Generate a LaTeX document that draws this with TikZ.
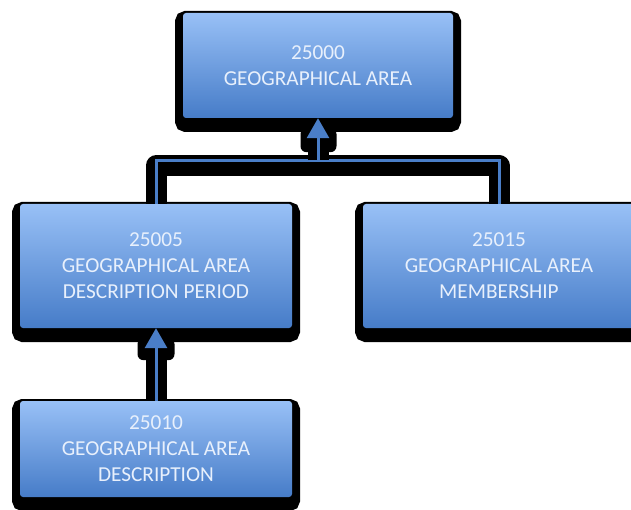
\documentclass[tikz,border=0pt]{standalone}
\usepackage{fontspec}
\setmainfont{Carlito}
\usetikzlibrary{arrows.meta,positioning}
\definecolor{boxtop}{RGB}{152,192,246}
\definecolor{boxbot}{RGB}{70,124,200}
\definecolor{wireblue}{RGB}{74,126,200}
\definecolor{boxtext}{RGB}{232,240,252}
\tikzset{
  box/.style={rectangle, rounded corners=3pt, minimum width=272pt, inner sep=0pt, align=center,
    top color=boxtop, bottom color=boxbot, text=boxtext, font=\fontsize{21.3}{26}\selectfont,
    preaction={fill=black, draw=black, line width=16pt, transform canvas={yshift=-6pt}}},
  wireshade/.style={draw=black, line width=21pt, line join=round, transform canvas={yshift=-5.5pt},
    shorten <=5.5pt, shorten >=5.5pt},
  wire/.style={draw=wireblue, line width=3pt, preaction={wireshade, arrows=-}},
  tipblob/.style={fill=black, rounded corners=6pt},
  tip/.style={-{Triangle[length=20pt,width=22pt]}}
}
\begin{document}
\begin{tikzpicture}[x=1pt, y=1pt]
\useasboundingbox (0,0) rectangle (631,-510);
\node[box, minimum width=270pt, minimum height=105pt] (ga) at (318,-65.5) {25000\\GEOGRAPHICAL AREA};
\node[box, minimum height=124pt] (gadp) at (156,-266) {25005\\GEOGRAPHICAL AREA\\DESCRIPTION PERIOD};
\node[box, minimum height=124pt] (gam) at (499,-266) {25015\\GEOGRAPHICAL AREA\\MEMBERSHIP};
\node[box, minimum height=96pt] (gad) at (156,-449) {25010\\GEOGRAPHICAL AREA\\DESCRIPTION};
\coordinate[below=42pt of ga.south] (fork);
% connectors
\draw[wire] (gadp.north) |- (fork) -| (gam.north);
\fill[tipblob] ([xshift=-17.5pt,yshift=-10pt]ga.south) rectangle ([xshift=18.5pt,yshift=-34pt]ga.south);
\draw[wire, tip] (fork) -- (ga.south);
\fill[tipblob] ([xshift=-18.5pt,yshift=-10pt]gadp.south) rectangle ([xshift=18.5pt,yshift=-32pt]gadp.south);
\draw[wire, tip] (gad.north) -- (gadp.south);
\end{tikzpicture}
\end{document}
